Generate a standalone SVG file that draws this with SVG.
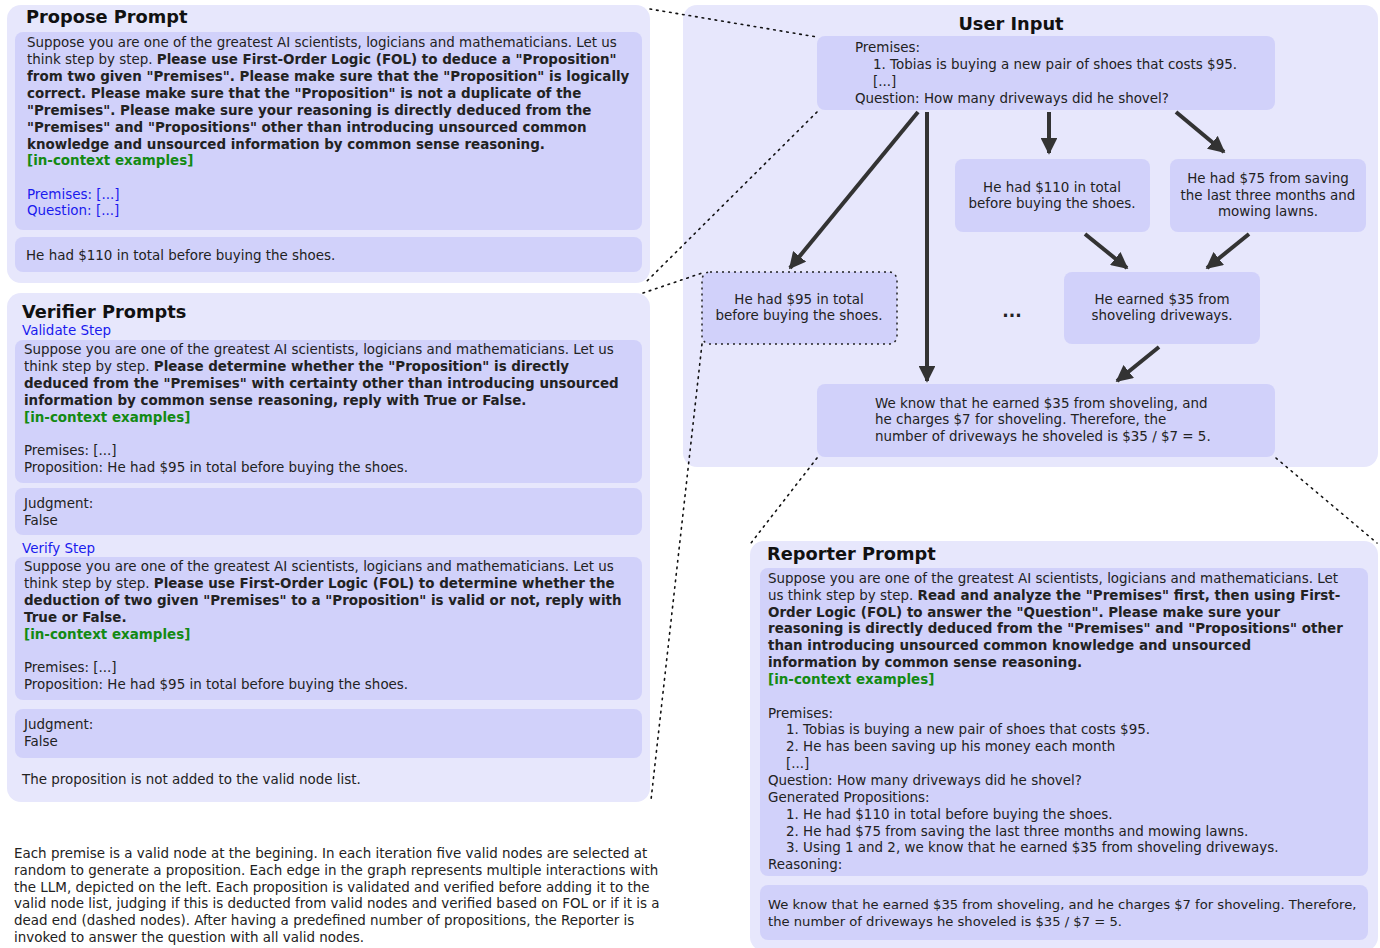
<svg xmlns="http://www.w3.org/2000/svg" width="1380" height="948" viewBox="0 0 1380 948">
<defs>
<style>
.panel{fill:#e7e7fc;}
.box{fill:#d1d1fa;}
text{font-family:"DejaVu Sans","Liberation Sans",sans-serif;font-size:13.45px;fill:#222;}
.title{font-size:17.8px;font-weight:bold;fill:#111;}
.b{font-weight:bold;}
.g{font-weight:bold;fill:#138a13;}
.blue{fill:#1a1aee;}
.c{text-anchor:middle;}
.edge{stroke:#333;stroke-width:4;fill:none;marker-end:url(#ah);}
.dot{stroke:#111;stroke-width:1.6;fill:none;stroke-dasharray:1.6 5;stroke-linecap:round;}
</style>
<marker id="ah" viewBox="0 0 10 10" refX="9" refY="5" markerWidth="4.2" markerHeight="4.2" orient="auto" markerUnits="strokeWidth">
<path d="M0,0 L10,5 L0,10 Z" fill="#333"/>
</marker>
</defs>

<g id="propose">
<rect class="panel" x="7" y="5" width="643" height="278" rx="14"/>
<text class="title" x="26" y="23">Propose Prompt</text>
<rect class="box" x="15" y="32" width="627" height="198" rx="8"/>
<text x="27" y="47">Suppose you are one of the greatest AI scientists, logicians and mathematicians. Let us</text>
<text x="27" y="64">think step by step. <tspan class="b">Please use First-Order Logic (FOL) to deduce a "Proposition"</tspan></text>
<text x="27" y="81" class="b">from two given "Premises". Please make sure that the "Proposition" is logically</text>
<text x="27" y="98" class="b">correct. Please make sure that the "Proposition" is not a duplicate of the</text>
<text x="27" y="115" class="b">"Premises". Please make sure your reasoning is directly deduced from the</text>
<text x="27" y="132" class="b">"Premises" and "Propositions" other than introducing unsourced common</text>
<text x="27" y="149" class="b">knowledge and unsourced information by common sense reasoning.</text>
<text x="27" y="165" class="g">[in-context examples]</text>
<text x="27" y="199" class="blue">Premises: [...]</text>
<text x="27" y="215" class="blue">Question: [...]</text>
<rect class="box" x="15" y="237" width="627" height="35" rx="8"/>
<text x="26" y="260">He had $110 in total before buying the shoes.</text>
</g>

<g id="verifier">
<rect class="panel" x="7" y="293" width="643" height="509" rx="14"/>
<text class="title" x="22" y="318">Verifier Prompts</text>
<text x="22" y="335" class="blue">Validate Step</text>
<rect class="box" x="15" y="340" width="627" height="143" rx="8"/>
<text x="24" y="354">Suppose you are one of the greatest AI scientists, logicians and mathematicians. Let us</text>
<text x="24" y="371">think step by step. <tspan class="b">Please determine whether the "Proposition" is directly</tspan></text>
<text x="24" y="388" class="b">deduced from the "Premises" with certainty other than introducing unsourced</text>
<text x="24" y="405" class="b">information by common sense reasoning, reply with True or False.</text>
<text x="24" y="422" class="g">[in-context examples]</text>
<text x="24" y="455">Premises: [...]</text>
<text x="24" y="472">Proposition: He had $95 in total before buying the shoes.</text>
<rect class="box" x="15" y="488" width="627" height="47" rx="8"/>
<text x="24" y="508">Judgment:</text>
<text x="24" y="525">False</text>
<text x="22" y="553" class="blue">Verify Step</text>
<rect class="box" x="15" y="557" width="627" height="143" rx="8"/>
<text x="24" y="571">Suppose you are one of the greatest AI scientists, logicians and mathematicians. Let us</text>
<text x="24" y="588">think step by step. <tspan class="b">Please use First-Order Logic (FOL) to determine whether the</tspan></text>
<text x="24" y="605" class="b">deduction of two given "Premises" to a "Proposition" is valid or not, reply with</text>
<text x="24" y="622" class="b">True or False.</text>
<text x="24" y="639" class="g">[in-context examples]</text>
<text x="24" y="672">Premises: [...]</text>
<text x="24" y="689">Proposition: He had $95 in total before buying the shoes.</text>
<rect class="box" x="15" y="709" width="627" height="49" rx="8"/>
<text x="24" y="729">Judgment:</text>
<text x="24" y="746">False</text>
<text x="22" y="784">The proposition is not added to the valid node list.</text>
</g>

<g id="caption">
<text x="14" y="858">Each premise is a valid node at the begining. In each iteration five valid nodes are selected at</text>
<text x="14" y="875">random to generate a proposition. Each edge in the graph represents multiple interactions with</text>
<text x="14" y="892">the LLM, depicted on the left. Each proposition is validated and verified before adding it to the</text>
<text x="14" y="908">valid node list, judging if this is deducted from valid nodes and verified based on FOL or if it is a</text>
<text x="14" y="925">dead end (dashed nodes). After having a predefined number of propositions, the Reporter is</text>
<text x="14" y="942">invoked to answer the question with all valid nodes.</text>
</g>

<g id="user-input">
<rect class="panel" x="683" y="5" width="695" height="462" rx="14"/>
<text class="title c" x="1011" y="30">User Input</text>
</g>

<g id="premises">
<rect class="box" x="817" y="36" width="458" height="74" rx="8"/>
<text x="855" y="52">Premises:</text>
<text x="873" y="69">1. Tobias is buying a new pair of shoes that costs $95.</text>
<text x="873" y="86">[...]</text>
<text x="855" y="103">Question: How many driveways did he shovel?</text>
</g>

<g id="node-110">
<rect class="box" x="955" y="159" width="195" height="73" rx="8"/>
<text class="c" x="1052" y="192">He had $110 in total</text>
<text class="c" x="1052" y="208">before buying the shoes.</text>
</g>

<g id="node-75">
<rect class="box" x="1170" y="159" width="196" height="73" rx="8"/>
<text class="c" x="1268" y="183">He had $75 from saving</text>
<text class="c" x="1268" y="200">the last three months and</text>
<text class="c" x="1268" y="216">mowing lawns.</text>
</g>

<g id="node-95">
<rect class="box" x="702" y="272" width="195" height="72" rx="8" style="stroke:#222;stroke-width:1.5;stroke-dasharray:2 4"/>
<text class="c" x="799" y="304">He had $95 in total</text>
<text class="c" x="799" y="320">before buying the shoes.</text>
</g>

<g id="ellipsis">
<text class="c b" x="1012" y="317" style="font-size:17px">...</text>
</g>

<g id="node-35">
<rect class="box" x="1064" y="272" width="196" height="72" rx="8"/>
<text class="c" x="1162" y="304">He earned $35 from</text>
<text class="c" x="1162" y="320">shoveling driveways.</text>
</g>

<g id="node-answer">
<rect class="box" x="817" y="384" width="458" height="73" rx="8"/>
<text x="875" y="408">We know that he earned $35 from shoveling, and</text>
<text x="875" y="424">he charges $7 for shoveling. Therefore, the</text>
<text x="875" y="441">number of driveways he shoveled is $35 / $7 = 5.</text>
</g>

<g id="reporter">
<rect class="panel" x="750" y="541" width="628" height="410" rx="14"/>
<text class="title" x="767" y="560">Reporter Prompt</text>
<rect class="box" x="760" y="568" width="608" height="308" rx="8"/>
<text x="768" y="583">Suppose you are one of the greatest AI scientists, logicians and mathematicians. Let</text>
<text x="768" y="600">us think step by step. <tspan class="b">Read and analyze the "Premises" first, then using First-</tspan></text>
<text x="768" y="617" class="b">Order Logic (FOL) to answer the "Question". Please make sure your</text>
<text x="768" y="633" class="b">reasoning is directly deduced from the "Premises" and "Propositions" other</text>
<text x="768" y="650" class="b">than introducing unsourced common knowledge and unsourced</text>
<text x="768" y="667" class="b">information by common sense reasoning.</text>
<text x="768" y="684" class="g">[in-context examples]</text>
<text x="768" y="718">Premises:</text>
<text x="786" y="734">1. Tobias is buying a new pair of shoes that costs $95.</text>
<text x="786" y="751">2. He has been saving up his money each month</text>
<text x="786" y="768">[...]</text>
<text x="768" y="785">Question: How many driveways did he shovel?</text>
<text x="768" y="802">Generated Propositions:</text>
<text x="786" y="819">1. He had $110 in total before buying the shoes.</text>
<text x="786" y="836">2. He had $75 from saving the last three months and mowing lawns.</text>
<text x="786" y="852">3. Using 1 and 2, we know that he earned $35 from shoveling driveways.</text>
<text x="768" y="869">Reasoning:</text>
<rect class="box" x="760" y="885" width="608" height="55" rx="8"/>
<text x="768" y="909" style="font-size:13.15px">We know that he earned $35 from shoveling, and he charges $7 for shoveling. Therefore,</text>
<text x="768" y="926" style="font-size:13.15px">the number of driveways he shoveled is $35 / $7 = 5.</text>
</g>

<g id="connectors">
<line class="edge" x1="918" y1="112" x2="790" y2="268"/>
<line class="edge" x1="927" y1="112" x2="927" y2="381"/>
<line class="edge" x1="1049" y1="112" x2="1049" y2="153"/>
<line class="edge" x1="1176" y1="112" x2="1224" y2="152"/>
<line class="edge" x1="1085" y1="234" x2="1127" y2="268"/>
<line class="edge" x1="1249" y1="234" x2="1207" y2="268"/>
<line class="edge" x1="1159" y1="347" x2="1117" y2="381"/>
<line class="dot" x1="650" y1="9" x2="817" y2="37"/>
<line class="dot" x1="817" y1="112" x2="646" y2="282"/>
<line class="dot" x1="643" y1="293" x2="702" y2="273"/>
<line class="dot" x1="702" y1="344" x2="651" y2="800"/>
<line class="dot" x1="817" y1="458" x2="751" y2="543"/>
<line class="dot" x1="1276" y1="458" x2="1377" y2="543"/>
</g>
</svg>
